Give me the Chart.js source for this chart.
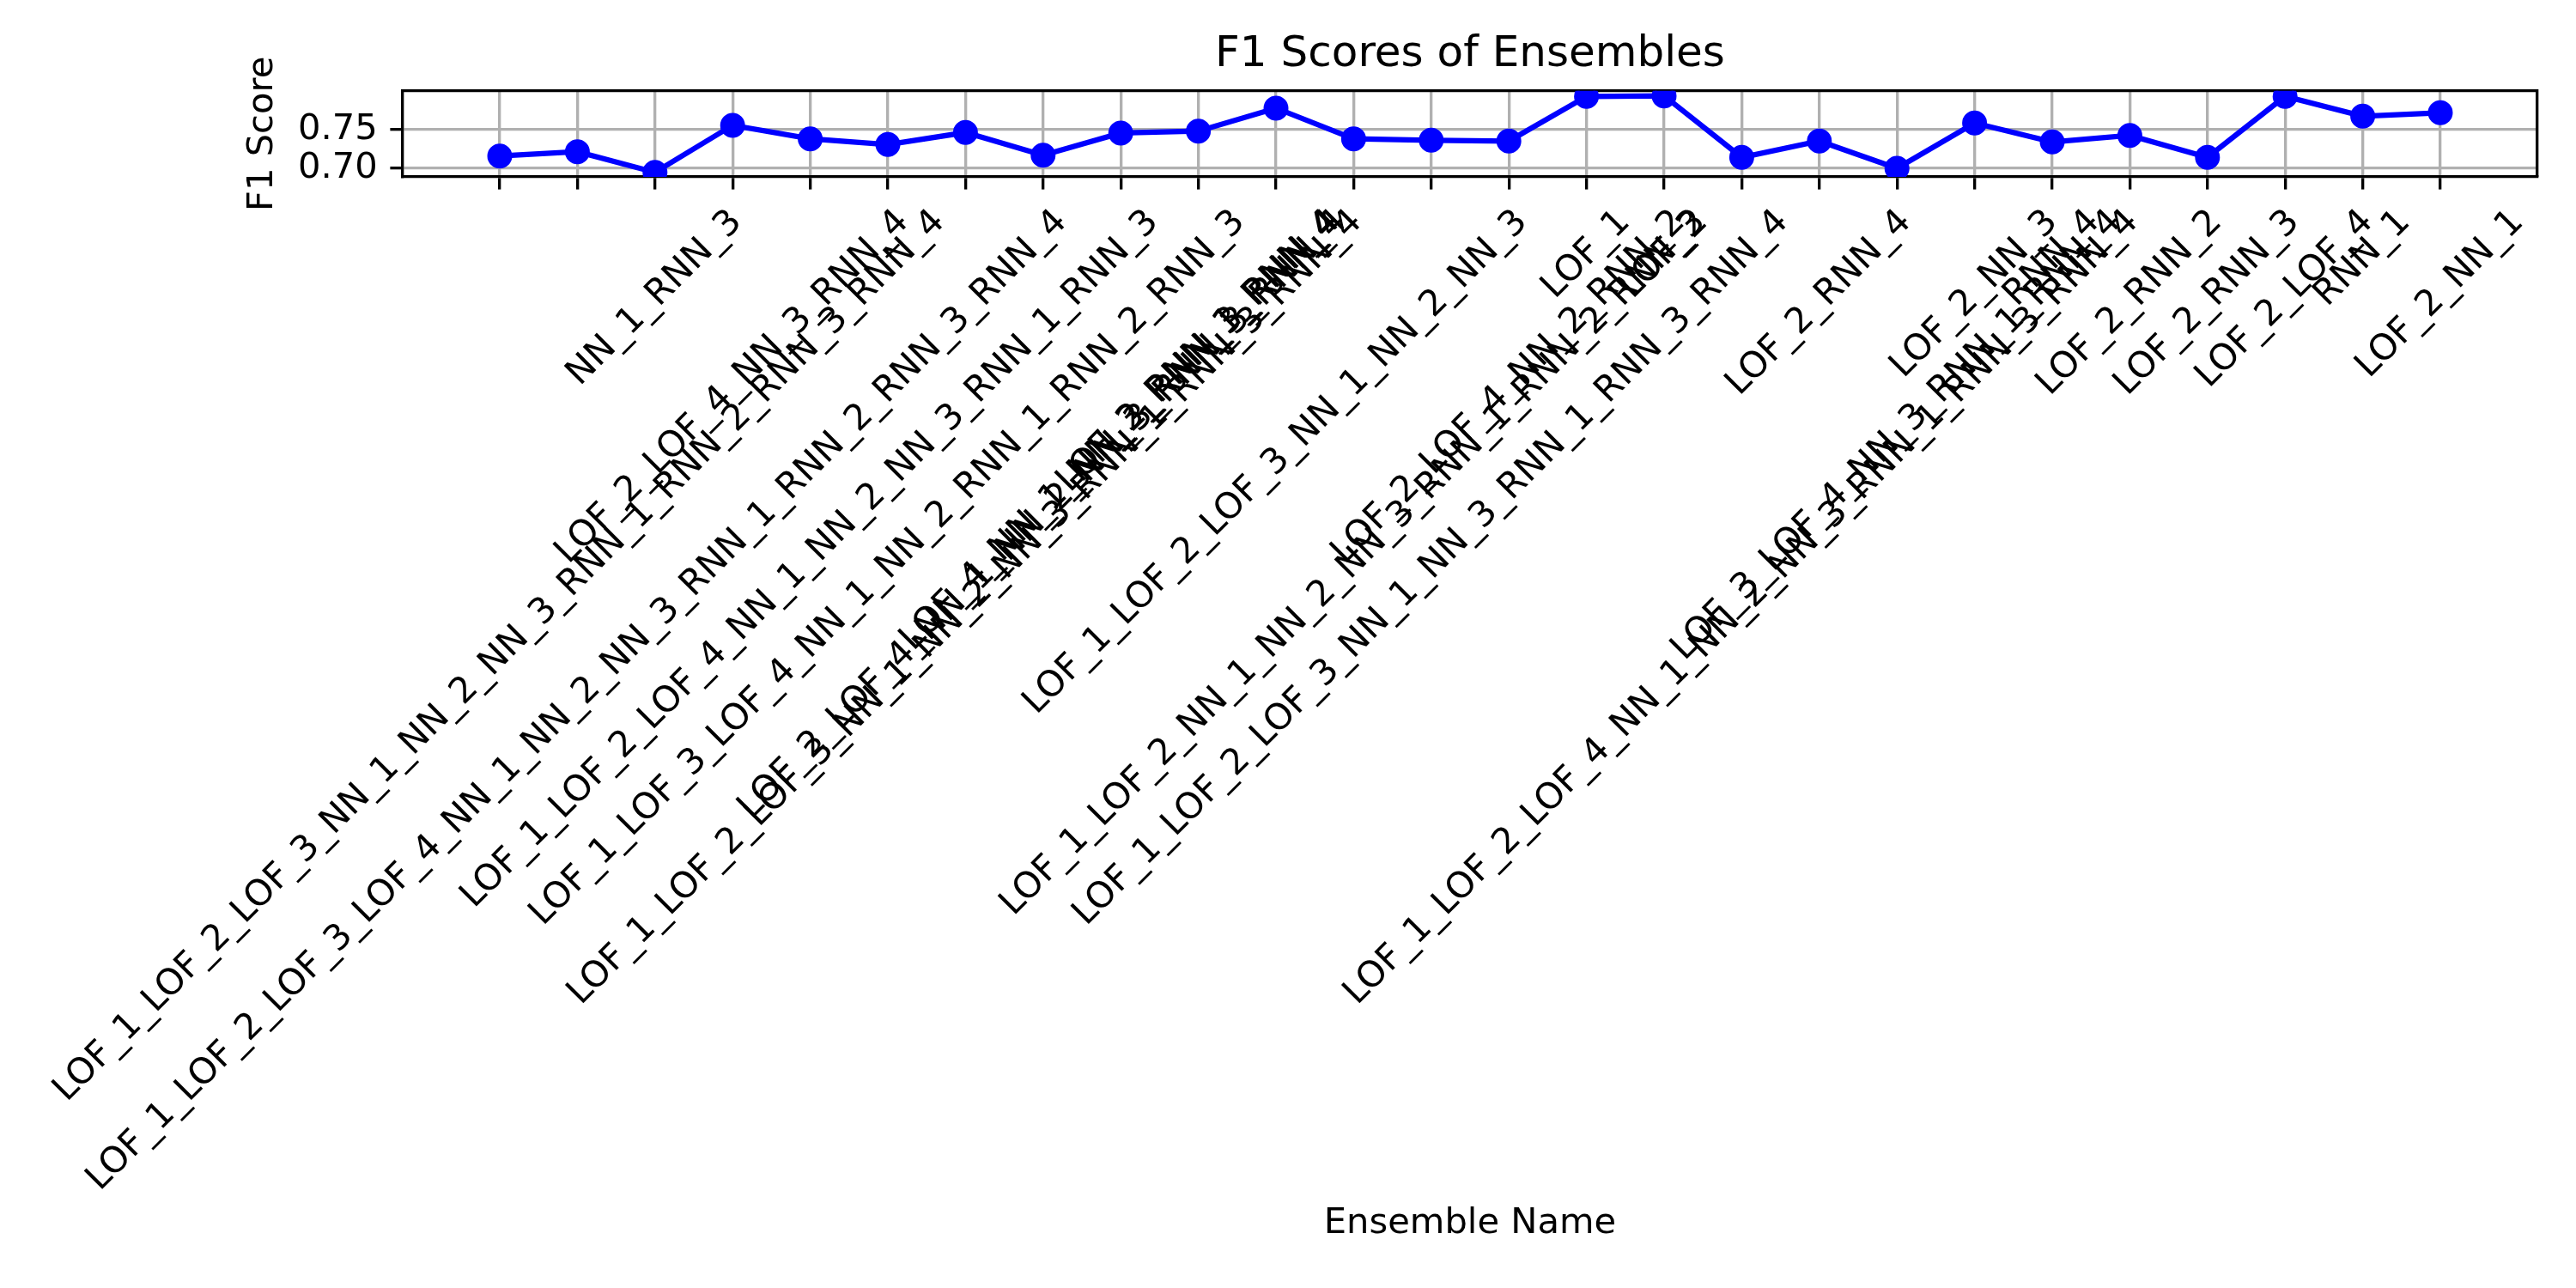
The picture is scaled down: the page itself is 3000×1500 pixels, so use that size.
<!DOCTYPE html>
<html>
<head>
<meta charset="utf-8">
<style>
  html, body { margin: 0; padding: 0; background: #ffffff; }
  canvas { display: block; }
</style>
<script src="https://cdn.jsdelivr.net/npm/chart.js@4.4.0/dist/chart.umd.min.js"></script>
</head>
<body>
<canvas id="c" width="3000" height="1500"></canvas>
<script>
// ---- data ----
const categories = [
  "LOF_1_LOF_2_LOF_3_NN_1_NN_2_NN_3_RNN_1_RNN_2_RNN_3_RNN_4",
  "LOF_1_LOF_2_LOF_3_LOF_4_NN_1_NN_2_NN_3_RNN_1_RNN_2_RNN_3_RNN_4",
  "NN_1_RNN_3",
  "LOF_2_LOF_4_NN_3_RNN_4",
  "LOF_1_LOF_2_LOF_4_NN_1_NN_2_NN_3_RNN_1_RNN_3",
  "LOF_1_LOF_3_LOF_4_NN_1_NN_2_RNN_1_RNN_2_RNN_3",
  "LOF_1_LOF_2_LOF_3_NN_1_NN_2_NN_3_RNN_1_RNN_3_RNN_4",
  "LOF_2_LOF_4_NN_1_NN_2_NN_3_RNN_3_RNN_4",
  "LOF_4_NN_1_NN_2_RNN_3_RNN_4",
  "LOF_3_RNN_1_RNN_4",
  "LOF_1_LOF_2_LOF_3_NN_1_NN_2_NN_3",
  "LOF_1_LOF_2_NN_1_NN_2_NN_3_RNN_1_RNN_2_RNN_3",
  "LOF_1_LOF_2_LOF_3_NN_1_NN_3_RNN_1_RNN_3_RNN_4",
  "LOF_2_LOF_4_NN_2_RNN_2",
  "LOF_1",
  "LOF_2",
  "LOF_1_LOF_2_LOF_4_NN_1_NN_2_NN_3_RNN_1_RNN_3_RNN_4",
  "LOF_2_RNN_4",
  "LOF_3_LOF_4_NN_3_RNN_1_RNN_4",
  "LOF_2_NN_3",
  "RNN_4",
  "LOF_2_RNN_2",
  "LOF_2_RNN_3",
  "LOF_2_LOF_4",
  "RNN_1",
  "LOF_2_NN_1"
];
const f1Scores = [
  0.7159, 0.7215, 0.6948, 0.7556, 0.7381, 0.7307, 0.7463, 0.7170, 0.7456, 0.7481,
  0.7778, 0.7381, 0.7363, 0.7352, 0.7930, 0.7937, 0.7141, 0.7352, 0.7000, 0.7585,
  0.7341, 0.7426, 0.7141, 0.7930, 0.7674, 0.7719
];
const yTickValues = [0.70, 0.75];
const chartTitle = "F1 Scores of Ensembles";
const xTitle = "Ensemble Name";
const yTitle = "F1 Score";

// ---- styling constants ----
const FONT = "'DejaVu Sans', 'Liberation Sans', sans-serif";
const FS = 41.67;          // 10pt at 300 dpi
const LW = 3.33;           // 0.8pt
const TICK_LEN = 14.6;     // 3.5pt
const TICK_PAD = 14.6;     // 3.5pt

Chart.defaults.font.family = FONT;
Chart.defaults.color = '#000000';

// Rotated, centred x tick labels (matplotlib rotation=45, ha='center')
const xLabelPlugin = {
  id: 'xLabels',
  afterDraw(chart) {
    const xs = chart.scales.x;
    const ctx = chart.ctx;
    const top = chart.chartArea.bottom + TICK_LEN + TICK_PAD;
    const c = Math.SQRT1_2;
    ctx.save();
    ctx.font = FS + 'px ' + FONT;
    ctx.fillStyle = '#000000';
    ctx.textAlign = 'center';
    ctx.textBaseline = 'middle';
    xs.ticks.forEach((t) => {
      const lab = categories[t.value];
      if (lab === undefined) return;
      const x = xs.getPixelForValue(t.value);
      const w = ctx.measureText(lab).width;
      const h = FS * 1.164;
      const W = (w + h) * c;
      ctx.save();
      ctx.translate(x, top + W / 2);
      ctx.rotate(-Math.PI / 4);
      ctx.fillText(lab, 0, 0);
      ctx.restore();
    });
    ctx.restore();
  }
};

const gridOpts = {
  color: '#b0b0b0',
  lineWidth: LW,
  tickColor: '#000000',
  tickWidth: LW,
  tickLength: TICK_LEN,
  drawTicks: true
};
const borderOpts = { display: true, color: '#000000', width: LW };

new Chart(document.getElementById('c'), {
  type: 'line',
  data: {
    datasets: [{
      label: yTitle,
      data: f1Scores.map((v, i) => ({ x: i, y: v })),
      borderColor: '#0000ff',
      backgroundColor: '#0000ff',
      borderWidth: 6.25,
      pointRadius: 12.5,
      pointBorderWidth: 4,
      pointBackgroundColor: '#0000ff',
      pointBorderColor: '#0000ff',
      tension: 0,
      clip: 0
    }]
  },
  options: {
    responsive: false,
    animation: false,
    devicePixelRatio: 1,
    layout: { padding: { left: 0, right: 45, top: 0, bottom: 0 } },
    plugins: {
      legend: { display: false },
      tooltip: { enabled: false },
      title: {
        display: true,
        text: chartTitle,
        fullSize: false,
        color: '#000000',
        font: { size: 50, weight: 'normal', family: FONT },
        padding: { top: 34.4, bottom: 11.3 }
      }
    },
    scales: {
      x: {
        type: 'linear',
        position: 'bottom',
        min: -1.25,
        max: categories.length - 1 + 1.25,
        afterBuildTicks: (s) => { s.ticks = categories.map((_, i) => ({ value: i })); },
        afterFit: (s) => { s.height = 1294; },
        ticks: { display: false },
        grid: gridOpts,
        border: borderOpts,
        title: {
          display: true,
          text: xTitle,
          color: '#000000',
          font: { size: FS, family: FONT },
          padding: { top: 0, bottom: 50 }
        }
      },
      y: {
        type: 'linear',
        position: 'left',
        min: 0.6889,
        max: 0.8003,
        afterBuildTicks: (s) => { s.ticks = yTickValues.map(v => ({ value: v })); },
        afterFit: (s) => { s.width = 469; },
        ticks: {
          color: '#000000',
          font: { size: FS, family: FONT },
          padding: TICK_PAD,
          callback: (v) => Number(v).toFixed(2)
        },
        grid: gridOpts,
        border: borderOpts,
        title: {
          display: true,
          text: yTitle,
          color: '#000000',
          font: { size: FS, family: FONT },
          padding: { top: 281, bottom: 0 }
        }
      },
      x2: {
        type: 'linear',
        position: 'top',
        min: 0, max: 1,
        ticks: { display: false },
        grid: { display: false, drawTicks: false },
        border: borderOpts,
        afterFit: (s) => { s.height = 0; }
      },
      y2: {
        type: 'linear',
        position: 'right',
        min: 0, max: 1,
        ticks: { display: false },
        grid: { display: false, drawTicks: false },
        border: borderOpts,
        afterFit: (s) => { s.width = 0; }
      }
    }
  },
  plugins: [xLabelPlugin]
});
</script>
</body>
</html>
